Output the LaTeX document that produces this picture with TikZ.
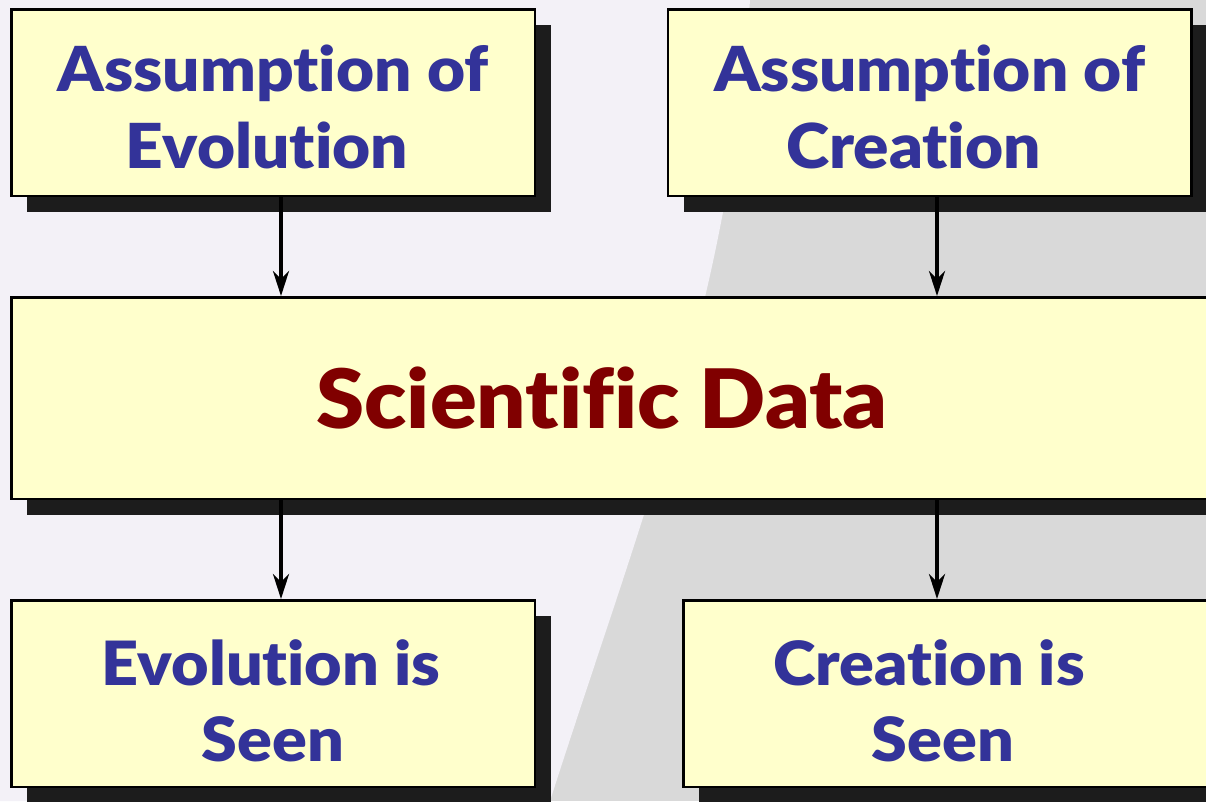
\documentclass[tikz,border=0pt]{standalone}
\usepackage{fontspec}
\setmainfont{Lato}[Ligatures=NoCommon,BoldFont=* Black,BoldFeatures={FakeStretch=1.06}]
\usetikzlibrary{shadows,arrows.meta,positioning,calc}

\definecolor{boxyellow}{HTML}{FFFFCC}
\definecolor{textblue}{HTML}{333399}
\definecolor{textred}{HTML}{800000}
\definecolor{shadowgray}{HTML}{1C1C1C}
\definecolor{backgray}{HTML}{D9D9D9}
\definecolor{earthwhite}{HTML}{F3F1F7}

\begin{document}
\begin{tikzpicture}
                    [x=1pt,y=-1pt,>={Stealth[length=25pt,width=16pt,inset=8pt]},
                     box/.style={draw=black,line width=2.5pt,fill=boxyellow,align=center,
                       inner sep=0pt,text=textblue,font=\fontsize{62}{77}\selectfont\bfseries,
                       drop shadow={shadow xshift=16pt,shadow yshift=-16pt,fill=shadowgray,opacity=1}},
                     smallbox/.style={box,minimum width=523.5pt,minimum height=186.5pt},
                     seenbox/.style={smallbox,font=\fontsize{61}{76}\selectfont\bfseries},
                     link/.style={->,line width=4pt}]

                    \useasboundingbox (0,0) rectangle (1206,801);
                    \clip (0,0) rectangle (1206,801);

                    % background
                    \fill[backgray] (0,0) rectangle (1206,801);
                    \fill[earthwhite] (0,0) -- (750,0) .. controls (730,300) and (640,520) .. (550,801) -- (0,801) -- cycle;

                    \node[smallbox] (evo) at (273,102.5) {\rule{0pt}{55pt}Assumption of\\Evolution\kern12pt};
                    \node[smallbox] (cre) at (929.5,102.5) {\rule{0pt}{55pt}Assumption of\\Creation\kern32pt};

                    \node[box,minimum width=1207.5pt,minimum height=201.5pt,text=textred,
                          font=\fontsize{82}{90}\selectfont\bfseries] (data) at (615,398) {Scientific Data\kern26pt};

                    \node[seenbox] (evoseen) at (273,693.5) {\rule{0pt}{61pt}Evolution is\kern4pt\\Seen};
                    \node[seenbox,minimum width=535.5pt] (creseen) at (951,693.5) {\rule{0pt}{61pt}Creation is\kern44pt\\Seen\kern16pt};

                    \draw[link] (evo.south -| 281,0) -- (data.north -| 281,0);
                    \draw[link] (cre.south -| 937,0) -- (data.north -| 937,0);
                    \draw[link] (data.south -| 281,0) -- (evoseen.north -| 281,0);
                    \draw[link] (data.south -| 937,0) -- (creseen.north -| 937,0);

                \end{tikzpicture}
\end{document}
